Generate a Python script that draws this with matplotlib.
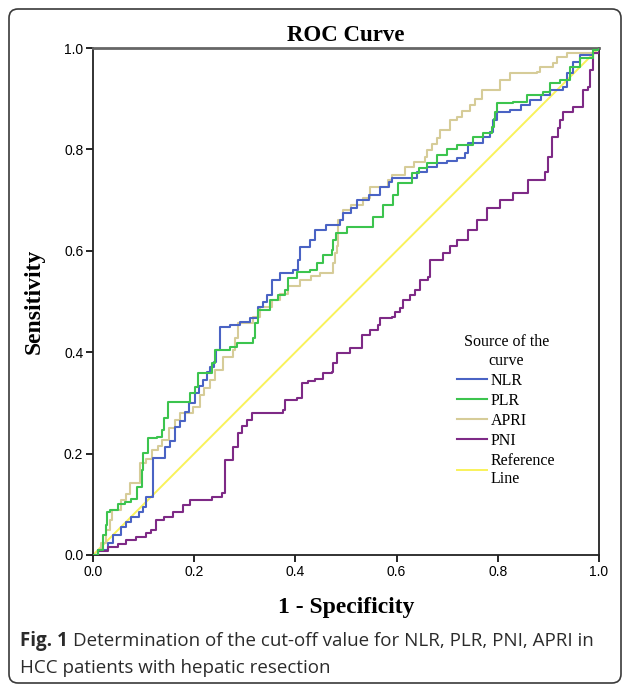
import matplotlib
matplotlib.use("Agg")
import matplotlib.pyplot as plt
from matplotlib.patches import FancyBboxPatch

# ROC vertices (1 - specificity, sensitivity)
nlr_x = [0.0, 0.01, 0.03, 0.04, 0.055, 0.065, 0.075, 0.09, 0.099, 0.105, 0.119, 0.119, 0.142, 0.152, 0.162,
         0.172, 0.182, 0.19, 0.202, 0.21, 0.217, 0.225, 0.232, 0.24, 0.243, 0.251, 0.251, 0.27, 0.29, 0.31,
         0.326, 0.335, 0.344, 0.354, 0.37, 0.395, 0.405, 0.409, 0.429, 0.439, 0.46, 0.488, 0.494, 0.51,
         0.522, 0.545, 0.567, 0.585, 0.591, 0.613, 0.64, 0.66, 0.68, 0.70, 0.719, 0.735, 0.741, 0.771,
         0.785, 0.79, 0.798, 0.824, 0.845, 0.864, 0.885, 0.903, 0.929, 0.937, 0.949, 0.962, 0.988, 1.0]
nlr_y = [0.0, 0.01, 0.024, 0.04, 0.055, 0.065, 0.075, 0.085, 0.095, 0.114, 0.114, 0.191, 0.213, 0.225, 0.252,
         0.265, 0.282, 0.30, 0.320, 0.333, 0.345, 0.36, 0.37, 0.38, 0.404, 0.404, 0.450, 0.454, 0.46, 0.467,
         0.489, 0.50, 0.513, 0.542, 0.556, 0.562, 0.582, 0.607, 0.621, 0.641, 0.65, 0.66, 0.675, 0.685,
         0.700, 0.71, 0.726, 0.735, 0.744, 0.744, 0.755, 0.765, 0.773, 0.778, 0.783, 0.793, 0.813, 0.824,
         0.835, 0.858, 0.874, 0.878, 0.888, 0.897, 0.907, 0.917, 0.923, 0.951, 0.972, 0.986, 0.99, 1.0]

plr_x = [0.0, 0.01, 0.02, 0.025, 0.028, 0.034, 0.05, 0.063, 0.075, 0.087, 0.097, 0.099, 0.109, 0.126, 0.136,
         0.14, 0.148, 0.186, 0.192, 0.202, 0.208, 0.235, 0.241, 0.257, 0.27, 0.285, 0.316, 0.320, 0.326,
         0.350, 0.365, 0.379, 0.385, 0.403, 0.429, 0.443, 0.455, 0.472, 0.474, 0.48, 0.502, 0.534, 0.553,
         0.573, 0.593, 0.603, 0.630, 0.645, 0.660, 0.680, 0.70, 0.719, 0.751, 0.771, 0.789, 0.792, 0.795,
         0.798, 0.83, 0.858, 0.889, 0.903, 0.923, 0.943, 0.962, 0.988, 1.0]
plr_y = [0.0, 0.01, 0.04, 0.06, 0.085, 0.089, 0.10, 0.105, 0.11, 0.134, 0.168, 0.201, 0.231, 0.233, 0.247,
         0.27, 0.302, 0.302, 0.320, 0.331, 0.359, 0.379, 0.404, 0.404, 0.41, 0.418, 0.428, 0.458, 0.483,
         0.503, 0.513, 0.523, 0.546, 0.558, 0.562, 0.576, 0.592, 0.602, 0.621, 0.635, 0.647, 0.647, 0.667,
         0.690, 0.710, 0.734, 0.753, 0.763, 0.773, 0.789, 0.80, 0.809, 0.824, 0.832, 0.844, 0.86, 0.873,
         0.892, 0.893, 0.907, 0.913, 0.931, 0.937, 0.963, 0.980, 0.996, 1.0]

apri_x = [0.0, 0.01, 0.016, 0.026, 0.033, 0.038, 0.055, 0.065, 0.073, 0.087, 0.093, 0.105, 0.117, 0.128,
          0.136, 0.15, 0.162, 0.172, 0.198, 0.211, 0.22, 0.231, 0.241, 0.257, 0.277, 0.281, 0.287, 0.316,
          0.330, 0.354, 0.37, 0.385, 0.409, 0.43, 0.449, 0.474, 0.478, 0.482, 0.484, 0.494, 0.51, 0.534,
          0.547, 0.583, 0.591, 0.617, 0.635, 0.656, 0.660, 0.67, 0.680, 0.686, 0.706, 0.719, 0.73, 0.745,
          0.755, 0.769, 0.804, 0.824, 0.877, 0.883, 0.909, 0.917, 0.937, 0.982, 1.0]
apri_y = [0.0, 0.01, 0.024, 0.05, 0.07, 0.089, 0.108, 0.12, 0.142, 0.142, 0.181, 0.19, 0.207, 0.215,
          0.227, 0.25, 0.266, 0.280, 0.292, 0.316, 0.33, 0.345, 0.365, 0.391, 0.404, 0.428, 0.458, 0.469,
          0.489, 0.503, 0.515, 0.53, 0.542, 0.55, 0.556, 0.576, 0.596, 0.61, 0.661, 0.680, 0.69, 0.704,
          0.726, 0.740, 0.750, 0.765, 0.775, 0.785, 0.799, 0.81, 0.822, 0.838, 0.858, 0.864, 0.875, 0.888,
          0.90, 0.917, 0.937, 0.951, 0.953, 0.963, 0.970, 0.982, 0.990, 0.990, 1.0]

pni_x = [0.0, 0.01, 0.030, 0.05, 0.065, 0.085, 0.105, 0.115, 0.125, 0.14, 0.158, 0.178, 0.192, 0.235,
         0.255, 0.261, 0.261, 0.277, 0.277, 0.287, 0.295, 0.304, 0.314, 0.364, 0.375, 0.379, 0.403, 0.413,
         0.425, 0.439, 0.455, 0.472, 0.474, 0.482, 0.504, 0.508, 0.532, 0.532, 0.547, 0.563, 0.567, 0.591,
         0.597, 0.607, 0.613, 0.626, 0.636, 0.646, 0.662, 0.666, 0.692, 0.705, 0.719, 0.741, 0.759, 0.779,
         0.804, 0.830, 0.858, 0.860, 0.893, 0.899, 0.907, 0.919, 0.923, 0.929, 0.949, 0.968, 0.968, 0.978,
         0.982, 0.988, 1.0]
pni_y = [0.0, 0.008, 0.016, 0.022, 0.030, 0.036, 0.043, 0.05, 0.069, 0.075, 0.085, 0.099, 0.108, 0.114,
         0.122, 0.134, 0.187, 0.191, 0.213, 0.241, 0.255, 0.266, 0.280, 0.280, 0.286, 0.306, 0.310, 0.339,
         0.343, 0.347, 0.359, 0.361, 0.379, 0.398, 0.398, 0.408, 0.418, 0.434, 0.444, 0.454, 0.467, 0.469,
         0.479, 0.487, 0.503, 0.513, 0.523, 0.542, 0.548, 0.582, 0.596, 0.61, 0.621, 0.641, 0.661, 0.684,
         0.700, 0.714, 0.714, 0.740, 0.755, 0.785, 0.824, 0.842, 0.858, 0.874, 0.884, 0.888, 0.917, 0.923,
         0.957, 0.990, 1.0]

ref_x = [0.0, 1.0]
ref_y = [0.0, 1.0]

ticks = [0.0, 0.2, 0.4, 0.6, 0.8, 1.0]
tick_labels = ["0.0", "0.2", "0.4", "0.6", "0.8", "1.0"]

fig = plt.figure(figsize=(6.27, 6.87), dpi=100)
ax = fig.add_axes([93 / 627, 1 - 555 / 687, 506 / 627, 507 / 687])

ax.plot(ref_x, ref_y, color="#f9f25a", linewidth=1.4, label="Reference\nLine", zorder=1)
ax.plot(nlr_x, nlr_y, drawstyle="steps-post", color="#4a63c4", linewidth=1.5, label="NLR", zorder=3)
ax.plot(plr_x, plr_y, drawstyle="steps-post", color="#3cc44e", linewidth=1.5, label="PLR", zorder=4)
ax.plot(apri_x, apri_y, drawstyle="steps-post", color="#d6cc98", linewidth=1.5, label="APRI", zorder=2)
ax.plot(pni_x, pni_y, drawstyle="steps-post", color="#7e2a86", linewidth=1.5, label="PNI", zorder=3)

ax.set_xlim(0, 1)
ax.set_ylim(0, 1)
ax.set_xticks(ticks)
ax.set_xticklabels(tick_labels, family="Liberation Sans", fontsize=10)
ax.set_yticks(ticks)
ax.set_yticklabels(tick_labels, family="Liberation Sans", fontsize=10)
ax.tick_params(direction="out", length=5, width=1.2, pad=2)

for side in ["left", "bottom"]:
    ax.spines[side].set_linewidth(1.3)
    ax.spines[side].set_color("#222222")
ax.spines["top"].set_linewidth(2.0)
ax.spines["top"].set_color("#666666")
ax.spines["right"].set_linewidth(1.4)
ax.spines["right"].set_color("#333333")

ax.set_title("ROC Curve", family="Liberation Serif", fontweight="bold", fontsize=16.5, pad=5)
ax.set_xlabel("1 - Specificity", family="Liberation Serif", fontweight="bold", fontsize=17, labelpad=13)
ax.set_ylabel("Sensitivity", family="Liberation Serif", fontweight="bold", fontsize=17, labelpad=14)

# legend order as in the reference
handles, labels = ax.get_legend_handles_labels()
order = [1, 2, 3, 4, 0]
leg = ax.legend([handles[i] for i in order], [labels[i] for i in order],
                title="Source of the\ncurve", frameon=False,
                loc="upper left", bbox_to_anchor=(0.72, 0.435), borderaxespad=0, borderpad=0,
                prop={"family": "Liberation Serif", "size": 11.5},
                handlelength=1.85, handletextpad=0.25, labelspacing=0.25)
leg.get_title().set_fontfamily("Liberation Serif")
leg.get_title().set_fontsize(11.5)
leg.get_title().set_multialignment("center")

# rounded frame round the whole figure
frame = FancyBboxPatch((9, 4), 612, 674, boxstyle="round,pad=0,rounding_size=9",
                       transform=None, facecolor="none", edgecolor="#3a3a3a", linewidth=1.2)
fig.patches.append(frame)

# caption
bold = fig.text(20 / 627, 1 - 641 / 687, "Fig. 1", family="Open Sans", fontweight="bold",
                fontsize=13.5, color="#2b2b2b", va="center")
fig.canvas.draw()
bb = bold.get_window_extent()
fig.text(bb.x1 / 627 + 5 / 627, 1 - 641 / 687,
         "Determination of the cut-off value for NLR, PLR, PNI, APRI in",
         family="Open Sans", fontsize=13.5, color="#2b2b2b", va="center")
fig.text(20 / 627, 1 - 668 / 687, "HCC patients with hepatic resection",
         family="Open Sans", fontsize=13.5, color="#2b2b2b", va="center")

plt.savefig("out.png", dpi=100)
